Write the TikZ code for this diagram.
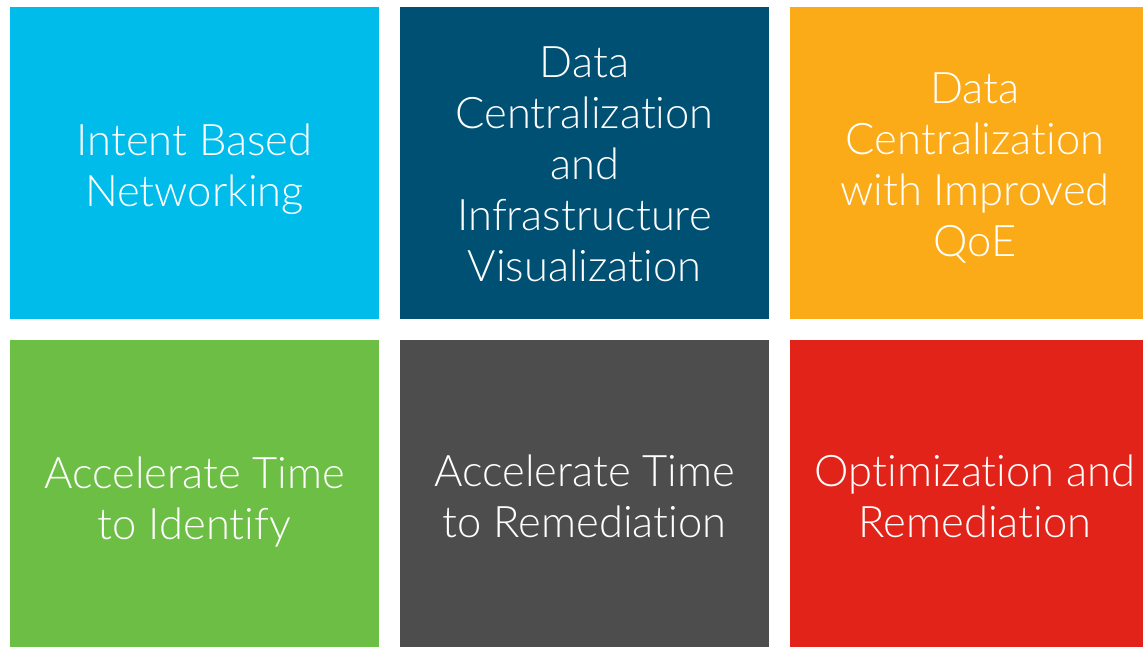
\documentclass[tikz,border=0pt]{standalone}
\usepackage{fontspec}
\setmainfont[Ligatures=NoCommon]{Lato Light}
\definecolor{cyanbox}{HTML}{00BCEB}
\definecolor{navybox}{HTML}{005073}
\definecolor{orangebox}{HTML}{FBAB18}
\definecolor{greenbox}{HTML}{6CBE45}
\definecolor{graybox}{HTML}{4D4D4D}
\definecolor{redbox}{HTML}{E2231A}
\begin{document}
\begin{tikzpicture}[x=1pt,y=-1pt,
  lbl/.style={text=white,align=center,font=\fontsize{43.5}{51}\selectfont,inner sep=0pt}]
\useasboundingbox (0,0) rectangle (1144,647);
\fill[white] (0,0) rectangle (1144,647);
\fill[cyanbox] (10,7) rectangle (379,319);
\fill[navybox] (400,7) rectangle (769,319);
\fill[orangebox] (790,7) rectangle (1143,319);
\fill[greenbox] (10,340) rectangle (379,647);
\fill[graybox] (400,340) rectangle (769,647);
\fill[redbox] (790,340) rectangle (1143,647);
\node[lbl] (t1) at (194.5,169) {Intent Based\\Networking};
\node[lbl] (t2) at (584.5,164) {Data\\Centralization\\and\\Infrastructure\\Visualization};
\node[lbl] (t3) at (975,168) {Data\\Centralization\\with Improved\\QoE};
\node[lbl] (t4) at (194.5,502) {Accelerate Time\\to Identify};
\node[lbl] (t5) at (584.5,496) {Accelerate Time\\to Remediation};
\node[lbl] (t6) at (975,496) {Optimization and\\Remediation};
\end{tikzpicture}
\end{document}
